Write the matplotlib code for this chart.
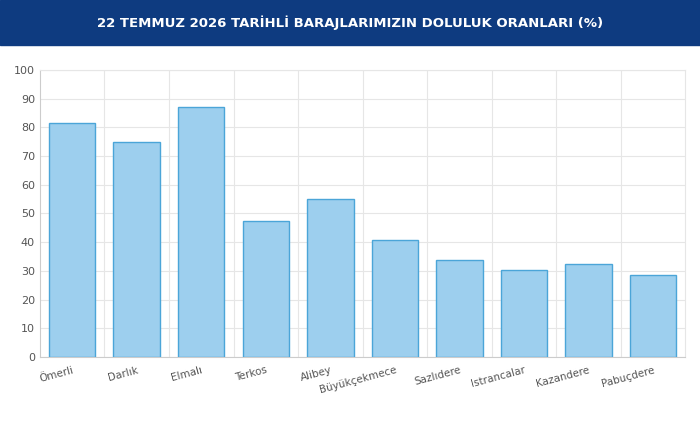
import matplotlib
matplotlib.use("Agg")
import matplotlib.pyplot as plt
from matplotlib.patches import FancyBboxPatch, Rectangle

categories = ["Ömerli", "Darlık", "Elmalı", "Terkos", "Alibey", "Büyükçekmece",
              "Sazlıdere", "Istrancalar", "Kazandere", "Pabuçdere"]
values = [81.5, 75.0, 87.1, 47.4, 55.0, 40.8, 33.8, 30.3, 32.4, 28.6]
title = "22 TEMMUZ 2026 TARİHLİ BARAJLARIMIZIN DOLULUK ORANLARI (%)"

fig = plt.figure(figsize=(7, 4.3), dpi=100)
fig.patches.append(Rectangle((0, 0.895), 1, 0.105, transform=fig.transFigure,
                             color="#0e3b80", zorder=0))
fig.text(0.5, 0.948, title, color="white", ha="center", va="center",
         fontsize=9.5, fontweight="bold")

ax = fig.add_axes([0.057, 0.17, 0.922, 0.667])
bars = ax.bar(range(len(values)), values, width=0.72, color="#9dcfee",
              edgecolor="#4ba5d8", linewidth=1, zorder=3)
ax.set_xlim(-0.5, len(values) - 0.5)
ax.set_ylim(0, 100)
ax.set_yticks(range(0, 101, 10))
ax.set_xticks(range(len(values)))
ax.set_xticklabels(categories, rotation=15, ha="right", rotation_mode="anchor",
                   fontsize=7.5, color="#555555")
ax.tick_params(axis="y", labelsize=8, colors="#555555", length=0)
ax.tick_params(axis="x", length=0, pad=6)
ax.set_xticks([i + 0.5 for i in range(len(values) - 1)], minor=True)
ax.grid(True, which="major", axis="y", color="#e6e6e6", linewidth=0.8, zorder=0)
ax.grid(True, which="minor", axis="x", color="#e6e6e6", linewidth=0.8, zorder=0)
ax.tick_params(which="minor", length=0)
for s in ["top", "right"]:
    ax.spines[s].set_color("#e6e6e6")
for s in ["left", "bottom"]:
    ax.spines[s].set_color("#cccccc")
fig.savefig("out.png", dpi=100)
